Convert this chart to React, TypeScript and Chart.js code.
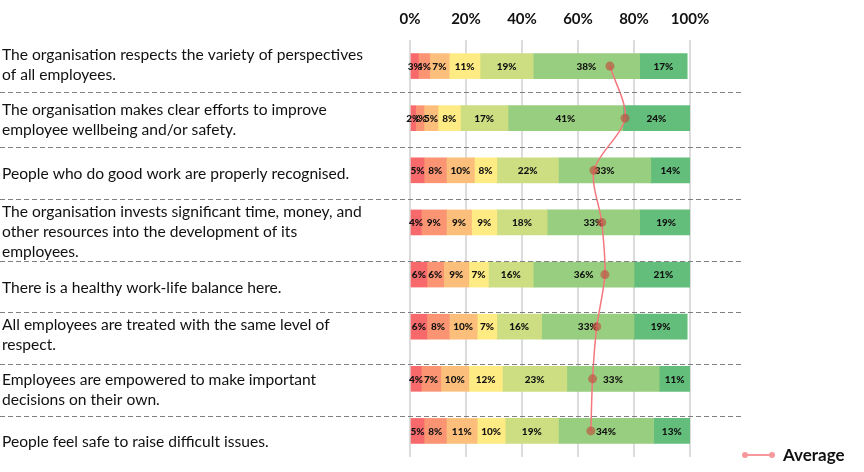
import React, { useEffect, useRef } from "react";
import { Chart, registerables } from "chart.js";
Chart.register(...registerables);

const categories: string[][] = [
  ["The organisation respects the variety of perspectives", "of all employees."],
  ["The organisation makes clear efforts to improve", "employee wellbeing and/or safety."],
  ["People who do good work are properly recognised."],
  ["The organisation invests significant time, money, and", "other resources into the development of its", "employees."],
  ["There is a healthy work-life balance here."],
  ["All employees are treated with the same level of", "respect."],
  ["Employees are empowered to make important", "decisions on their own."],
  ["People feel safe to raise difficult issues."],
];

const level1 = [3, 2, 5, 4, 6, 6, 4, 5];
const level2 = [4, 3, 8, 9, 6, 8, 7, 8];
const level3 = [7, 5, 10, 9, 9, 10, 10, 11];
const level4 = [11, 8, 8, 9, 7, 7, 12, 10];
const level5 = [19, 17, 22, 18, 16, 16, 23, 19];
const level6 = [38, 41, 33, 33, 36, 33, 33, 34];
const level7 = [17, 24, 14, 19, 21, 19, 11, 13];
const average = [71.4, 76.8, 65.7, 68.5, 69.6, 66.7, 65.2, 64.6];
const xTickValues = [0, 20, 40, 60, 80, 100];
const legendLabel = "Average";

const levelColors = ["#F8696B", "#FA9473", "#FCBF7B", "#FFEB84", "#CCDD82", "#98CE7F", "#63BE7B"];
// layout styling: separator gap above next bar (fraction of band), label block shift (px)
const separatorGap = [0.5, 0.45, 0.45, 0.26, 0.28, 0.28, 0.29];
const labelShift = [-1, 2, 4, 10, 13, 8, 11, 11];

const FONT = "Lato, 'Liberation Sans', sans-serif";

export default function App() {
  const ref = useRef<HTMLCanvasElement | null>(null);
  useEffect(() => {
    document.body.style.margin = "0";
    const levels = [level1, level2, level3, level4, level5, level6, level7];

    const barLabels = {
      id: "barLabels",
      afterDatasetDraw(chart: any, args: any) {
        const ds = chart.data.datasets[args.index];
        if (ds.type !== "bar") return;
        const ctx = chart.ctx;
        ctx.save();
        ctx.font = `900 10px ${FONT}`;
        ctx.fillStyle = "#111";
        ctx.textAlign = "center";
        ctx.textBaseline = "middle";
        args.meta.data.forEach((el: any, i: number) => {
          const v = ds.data[i];
          const cx = (el.x + el.base) / 2;
          ctx.fillText(`${v}%`, cx, el.y + 0.5);
        });
        ctx.restore();
      },
    };

    const decorations = {
      id: "decorations",
      afterDraw(chart: any) {
        const ctx = chart.ctx;
        const y = chart.scales.y;
        const band = y.getPixelForValue(1) - y.getPixelForValue(0);
        ctx.save();
        // category labels
        ctx.fillStyle = "#111";
        ctx.font = `15.6px ${FONT}`;
        ctx.textAlign = "left";
        ctx.textBaseline = "middle";
        const lineH = 20;
        (chart.data.labels as string[][]).forEach((lines, i) => {
          const cy = y.getPixelForValue(i) + labelShift[i];
          const top = cy - ((lines.length - 1) * lineH) / 2;
          lines.forEach((t, j) => ctx.fillText(t, 2, top + j * lineH));
        });
        // separators
        ctx.strokeStyle = "#7f7f7f";
        ctx.lineWidth = 1.2;
        ctx.setLineDash([5, 3]);
        for (let i = 0; i < categories.length - 1; i++) {
          const py = Math.round(y.getPixelForValue(i + 1) - separatorGap[i] * band) + 0.5;
          ctx.beginPath();
          ctx.moveTo(0, py);
          ctx.lineTo(742, py);
          ctx.stroke();
        }
        ctx.setLineDash([]);
        // legend
        const ly = chart.height - 17;
        const lx = chart.width - 119;
        ctx.strokeStyle = "#F7999C";
        ctx.lineWidth = 2;
        ctx.beginPath();
        ctx.moveTo(lx, ly);
        ctx.lineTo(lx + 27, ly);
        ctx.stroke();
        ctx.fillStyle = "#F7999C";
        [lx, lx + 27].forEach((px) => {
          ctx.beginPath();
          ctx.arc(px, ly, 3, 0, Math.PI * 2);
          ctx.fill();
        });
        ctx.fillStyle = "#111";
        ctx.font = `bold 17px ${FONT}`;
        ctx.fillText(legendLabel, lx + 38, ly + 1);
        ctx.restore();
      },
    };

    const datasets: any[] = levels.map((vals, k) => ({
      type: "bar",
      label: `Level ${k + 1}`,
      data: vals,
      backgroundColor: levelColors[k],
      borderWidth: 0,
      barThickness: 25,
      stack: "levels",
      order: 1,
    }));
    datasets.push({
      type: "line",
      label: legendLabel,
      data: average,
      indexAxis: "y",
      stack: "avg",
      borderColor: "#F4777D",
      borderWidth: 1.5,
      tension: 0.3,
      pointRadius: 4.5,
      pointBackgroundColor: "rgba(195,70,60,0.6)",
      pointBorderWidth: 0,
      order: 0,
    });

    const chart = new Chart(ref.current as HTMLCanvasElement, {
      type: "bar",
      data: { labels: categories as any, datasets },
      plugins: [barLabels, decorations],
      options: {
        indexAxis: "y",
        animation: false,
        responsive: false,
        maintainAspectRatio: false,
        layout: { padding: { left: 410, right: 174, top: 0, bottom: 15 } },
        plugins: { legend: { display: false }, tooltip: { enabled: false } },
        scales: {
          x: {
            position: "top",
            stacked: true,
            min: 0,
            max: 100,
            afterBuildTicks(scale: any) {
              scale.ticks = xTickValues.map((v) => ({ value: v }));
            },
            afterFit(scale: any) {
              scale.height = 40;
            },
            grid: { color: "#DCDCDC", lineWidth: 2, drawTicks: false },
            border: { display: false },
            ticks: {
              padding: 12,
              color: "#111",
              font: { family: FONT, size: 15, weight: "bold" },
              callback: (v: any) => `${v}%`,
            },
          },
          y: {
            stacked: true,
            display: false,
          },
        },
      },
    });
    return () => chart.destroy();
  }, []);
  return (
    <div style={{ width: 864, height: 472 }}>
      <canvas ref={ref} width={864} height={472} />
    </div>
  );
}
